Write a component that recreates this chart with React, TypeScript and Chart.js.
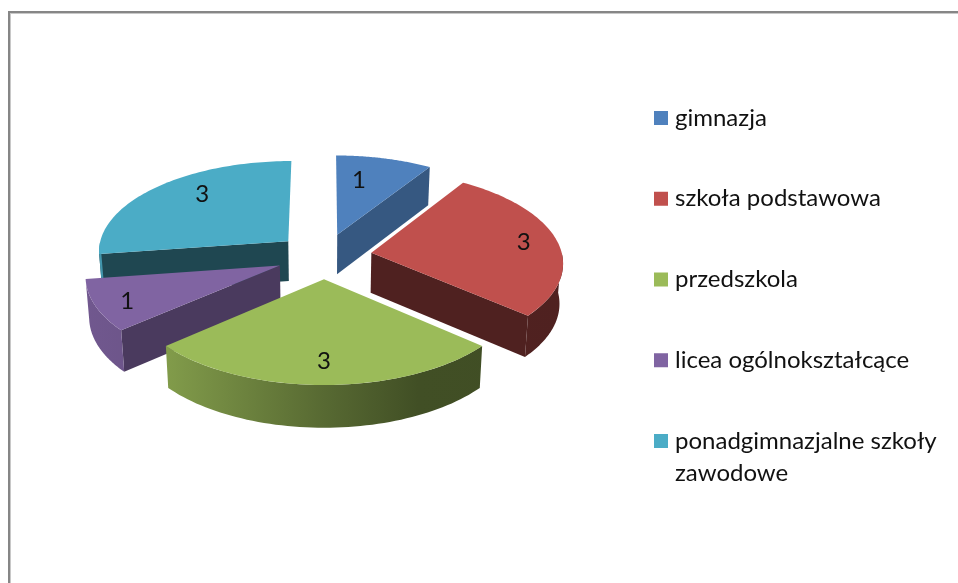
import React, { useEffect, useRef } from "react";
import { Chart, registerables } from "chart.js";

Chart.register(...registerables);

const categories = ["gimnazja", "szkoła podstawowa", "przedszkola", "licea ogólnokształcące", "ponadgimnazjalne szkoły zawodowe"];
const legendLines = [["gimnazja"], ["szkoła podstawowa"], ["przedszkola"], ["licea ogólnokształcące"], ["ponadgimnazjalne szkoły", "zawodowe"]];
const values = [1, 3, 3, 1, 3];
const colors = ["#4F81BD", "#C0504D", "#9BBB59", "#8064A2", "#4BACC6"];
const wallShade = [0.68, 0.41, 0.5, 0.58, 0.41];
const labelAngleDeg = [10.9, 81.8, 180, 244, 319];
const labelRadiusFrac = [0.68, 0.82, 0.79, 0.84, 0.75];

const PERSPECTIVE = 0.000504;
const TILT = 0.4747;
const DEPTH = 40;
const FONT = "Lato, Carlito, sans-serif";

function shade(hex: string, f: number) {
  const n = parseInt(hex.slice(1), 16);
  const r = Math.round(((n >> 16) & 255) * f);
  const g = Math.round(((n >> 8) & 255) * f);
  const b = Math.round((n & 255) * f);
  return `rgb(${r},${g},${b})`;
}

function project(cx: number, cy: number, u: number, v: number, low: boolean) {
  const s = 1 / (1 - PERSPECTIVE * v);
  const x = u * s * (low ? 0.985 : 1);
  const y = TILT * v * s + (low ? DEPTH * (1 + 0.5 * (s - 1)) : 0);
  return [cx + x, cy + y];
}

function poly(ctx: CanvasRenderingContext2D, pts: number[][], fill: any) {
  ctx.beginPath();
  pts.forEach((p, i) => (i ? ctx.lineTo(p[0], p[1]) : ctx.moveTo(p[0], p[1])));
  ctx.closePath();
  ctx.fillStyle = fill;
  ctx.fill();
}

const pie3d = {
  id: "pie3d",
  beforeDatasetDraw() {
    return false;
  },
  afterDatasetsDraw(chart: any) {
    const ctx: CanvasRenderingContext2D = chart.ctx;
    const meta = chart.getDatasetMeta(0);
    const ds = chart.data.datasets[0];
    const slices = meta.data.map((arc: any, i: number) => {
      const t0 = arc.startAngle + Math.PI / 2;
      const t1 = arc.endAngle + Math.PI / 2;
      const mid = (t0 + t1) / 2;
      const e = arc.options.offset;
      return { i, arc, t0, t1, mid, e, ou: Math.sin(mid) * e, ov: -Math.cos(mid) * e };
    });
    slices.sort((a: any, b: any) => a.ov - b.ov);
    for (const sl of slices) {
      const { i, arc, t0, t1, ou, ov } = sl;
      const R = arc.outerRadius;
      const col = ds.backgroundColor[i];
      const cx = arc.x;
      const cy = arc.y;
      const at = (t: number, r: number, low: boolean) => project(cx, cy, ou + Math.sin(t) * r, ov - Math.cos(t) * r, low);
      // side walls facing the viewer
      const dark = shade(col, wallShade[i]);
      if (-Math.sin(t0) > 0.001) poly(ctx, [at(t0, 0, false), at(t0, R, false), at(t0, R, true), at(t0, 0, true)], dark);
      if (Math.sin(t1) > 0.001) poly(ctx, [at(t1, 0, false), at(t1, R, false), at(t1, R, true), at(t1, 0, true)], dark);
      const a0 = Math.max(t0, Math.PI / 2);
      const a1 = Math.min(t1, (3 * Math.PI) / 2);
      if (a1 > a0) {
        const g = ctx.createLinearGradient(80, 0, 570, 0);
        const stops: number[][] = [[0, 0.88], [0.18, 0.83], [0.5, 0.56], [0.69, 0.42], [1, 0.41]];
        stops.forEach(([p, f]) => g.addColorStop(p, shade(col, f)));
        const up: number[][] = [];
        const lo: number[][] = [];
        for (let k = 0; k <= 60; k++) {
          const t = a0 + ((a1 - a0) * k) / 60;
          up.push(at(t, R, false));
          lo.unshift(at(t, R, true));
        }
        poly(ctx, up.concat(lo), g);
      }
      // top face
      const top: number[][] = [at(t0, 0, false)];
      for (let k = 0; k <= 80; k++) top.push(at(t0 + ((t1 - t0) * k) / 80, R, false));
      poly(ctx, top, col);
    }
    // value labels
    ctx.fillStyle = "#111";
    ctx.font = `24px ${FONT}`;
    ctx.textAlign = "center";
    ctx.textBaseline = "middle";
    for (const sl of slices) {
      const t = (labelAngleDeg[sl.i] * Math.PI) / 180;
      const r = labelRadiusFrac[sl.i] * sl.arc.outerRadius;
      const p = project(sl.arc.x, sl.arc.y, sl.ou + Math.sin(t) * r, sl.ov - Math.cos(t) * r, false);
      ctx.fillText(String(ds.data[sl.i]), p[0], p[1]);
    }
    // legend
    ctx.textAlign = "left";
    legendLines.forEach((lines, i) => {
      const y = 118 + i * 80.75;
      ctx.fillStyle = ds.backgroundColor[i];
      ctx.fillRect(654, y - 7, 14, 14);
      ctx.fillStyle = "#111";
      lines.forEach((line, j) => ctx.fillText(line, 675, y + j * 32));
    });
  },
};

export default function App() {
  const ref = useRef<HTMLCanvasElement>(null);
  useEffect(() => {
    const chart = new Chart(ref.current!, {
      type: "pie",
      data: {
        labels: categories,
        datasets: [{ data: values, backgroundColor: colors, borderWidth: 0, offset: 48, hoverOffset: 0 }],
      },
      options: {
        animation: false,
        responsive: false,
        events: [],
        radius: 191,
        layout: { padding: { left: 109, right: 419, top: 41, bottom: 112 } },
        plugins: { legend: { display: false }, tooltip: { enabled: false } },
      } as any,
      plugins: [pie3d as any],
    });
    return () => chart.destroy();
  }, []);
  return (
    <div style={{ position: "absolute", left: 0, top: 0, width: 958, height: 583, overflow: "hidden", background: "#fff" }}>
      <canvas ref={ref} width={958} height={583} style={{ display: "block", position: "absolute", left: 0, top: 0 }} />
      <div
        style={{
          position: "absolute",
          left: 8,
          top: 11,
          right: 0,
          bottom: 0,
          borderLeft: "2px solid #868686",
          borderTop: "2px solid #868686",
          boxShadow: "inset 1px 1px 0 #c8c8c8",
        }}
      />
    </div>
  );
}
